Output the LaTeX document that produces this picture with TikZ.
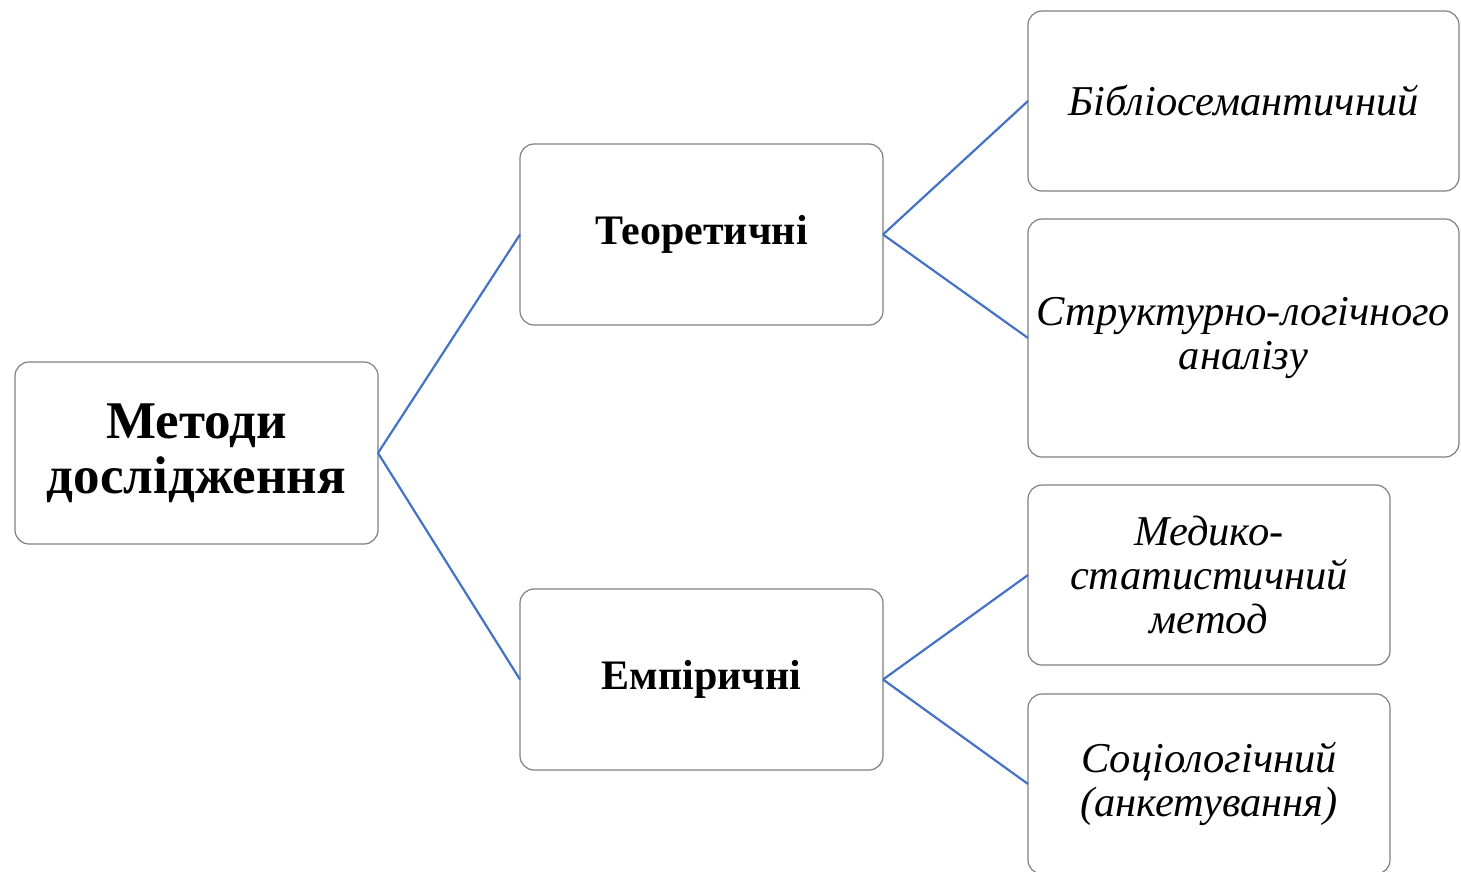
\documentclass[tikz,border=0pt]{standalone}
\usepackage{fontspec}
\setmainfont{Liberation Serif}
\begin{document}
\begin{tikzpicture}[x=1pt,y=-1pt,
  box/.style={draw={rgb,255:red,128;green,128;blue,128}, line width=1.2pt, rounded corners=14pt, fill=white, align=center, inner sep=0pt, outer sep=0pt},
  rootbox/.style={box, minimum width=363pt, minimum height=182pt, font=\fontsize{53}{55}\selectfont\bfseries},
  midbox/.style={box, minimum width=363pt, minimum height=181pt, font=\fontsize{42}{46}\selectfont\bfseries},
  leafbox/.style={box, minimum height=180pt, font=\fontsize{42.5}{44}\selectfont\itshape},
  link/.style={line width=2.2pt, draw={rgb,255:red,68;green,114;blue,196}}
]
\useasboundingbox (0,0) rectangle (1461,871);
\node[rootbox] (root) at (196.5,453) {Методи\\дослідження};
\node[midbox] (teor) at (701.5,234.5) {Теоретичні};
\node[midbox] (emp) at (701.5,679.5) {Емпіричні};
\node[leafbox, minimum width=431pt] (bib) at (1243.5,101) {Бібліосемантичний};
\node[leafbox, minimum width=431pt, minimum height=238pt] (str) at (1243.5,338) {Структурно-логічного\\аналізу};
\node[leafbox, minimum width=362pt] (med) at (1209,575) {Медико-\\статистичний\\метод};
\node[leafbox, minimum width=362pt] (soc) at (1209,784) {Соціологічний\\(анкетування)};
\draw[link] (root.east) -- (teor.west);
\draw[link] (root.east) -- (emp.west);
\draw[link] (teor.east) -- (bib.west);
\draw[link] (teor.east) -- (str.west);
\draw[link] (emp.east) -- (med.west);
\draw[link] (emp.east) -- (soc.west);
\end{tikzpicture}
\end{document}
